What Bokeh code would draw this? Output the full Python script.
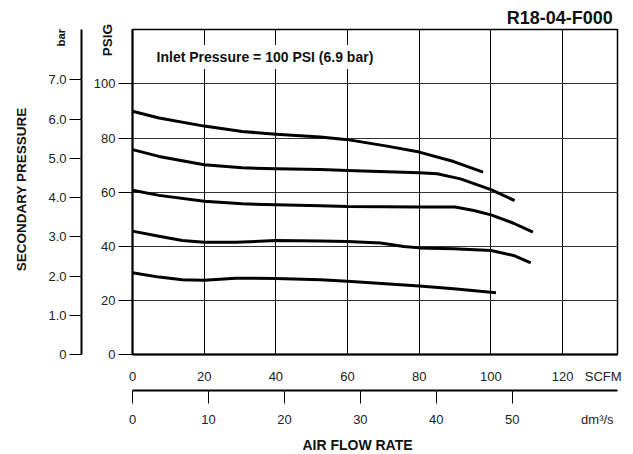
import math
from bokeh.plotting import figure
from bokeh.models import Range1d, LinearAxis, FixedTicker, Label
from bokeh.embed import file_html
from bokeh.resources import INLINE

# ---- data (SCFM vs PSIG) ----
scfm_ticks = [0, 20, 40, 60, 80, 100, 120]
psig_ticks = [0, 20, 40, 60, 80, 100]
bar_ticks = [0, 1, 2, 3, 4, 5, 6, 7]
bar_labels = ["0", "1.0", "2.0", "3.0", "4.0", "5.0", "6.0", "7.0"]
dm_ticks = [0, 10, 20, 30, 40, 50]
scfm_unit_pos = 131.3   # where the "SCFM" unit text sits on the SCFM scale
dm_unit_pos = 61.2      # where the "dm³/s" unit text sits on the dm³/s scale

c1_x = [0, 7.4, 20, 30.6, 40, 52.4, 60, 71, 80, 89.6, 97.8]
c1_y = [89.9, 87.4, 84.4, 82.4, 81.4, 80.4, 79.4, 77.0, 74.8, 71.3, 67.4]

c2_x = [0, 7.4, 20, 30.6, 40, 52.4, 60, 71, 80, 85, 91.5, 100, 106.6]
c2_y = [75.7, 73.2, 70.1, 69.0, 68.6, 68.4, 68.0, 67.5, 67.2, 66.8, 64.9, 60.9, 56.9]

c3_x = [0, 7.4, 20, 30.6, 40, 52.4, 60, 80, 90, 95.2, 100, 106.3, 111.7]
c3_y = [60.7, 58.8, 56.6, 55.7, 55.3, 55.0, 54.7, 54.5, 54.5, 53.2, 51.6, 48.5, 45.2]

c4_x = [0, 7.4, 13.9, 20, 28.8, 40, 52.4, 60, 69.2, 75.7, 80, 89.6, 100, 106.3, 111.1]
c4_y = [45.6, 43.7, 42.1, 41.5, 41.5, 42.1, 41.9, 41.8, 41.2, 39.9, 39.4, 39.1, 38.4, 36.6, 33.9]

c5_x = [0, 7.4, 13.9, 20, 28.8, 40, 52.4, 60, 80, 89.6, 101.4]
c5_y = [30.2, 28.6, 27.6, 27.4, 28.2, 28.1, 27.6, 27.1, 25.3, 24.3, 22.8]

curves = [(c1_x, c1_y), (c2_x, c2_y), (c3_x, c3_y), (c4_x, c4_y), (c5_x, c5_y)]

X_MAX = 135.3
Y_MAX = 120.1
PSI_PER_BAR = 14.5038
DM_PER_SCFM = 0.471947

FONT = "Liberation Sans"
TXT = "#111111"

p = figure(frame_width=485, frame_height=325,
           x_range=Range1d(0, X_MAX), y_range=Range1d(0, Y_MAX),
           output_backend="svg", toolbar_location=None,
           min_border_left=132, min_border_right=16,
           min_border_top=29, min_border_bottom=100)
p.extra_y_ranges = {"bar": Range1d(0, Y_MAX / PSI_PER_BAR)}
p.extra_x_ranges = {"dm": Range1d(0, X_MAX * DM_PER_SCFM)}

p.outline_line_color = "black"
p.outline_line_width = 1.5
p.background_fill_color = "white"
p.border_fill_color = "white"

# grid
p.xgrid.ticker = FixedTicker(ticks=scfm_ticks)
p.ygrid.ticker = FixedTicker(ticks=psig_ticks)
p.xgrid.grid_line_color = "black"
p.xgrid.grid_line_width = 1
p.ygrid.grid_line_color = "#333333"
p.ygrid.grid_line_width = 1

# SCFM axis (bottom, attached to frame)
xa = p.xaxis[0]
xa.ticker = FixedTicker(ticks=scfm_ticks + [scfm_unit_pos])
xa.major_label_overrides = {scfm_unit_pos: "SCFM"}
xa.major_tick_out = 0
xa.major_tick_in = 0
xa.minor_tick_out = 0
xa.minor_tick_in = 0
xa.major_label_standoff = 14
xa.major_label_text_font = FONT
xa.major_label_text_font_size = "13px"
xa.major_label_text_color = "#222222"
xa.axis_line_color = "black"
xa.axis_line_width = 2
xa.axis_label = " "
xa.axis_label_text_font_size = "1px"
xa.axis_label_standoff = 0

# dm3/s axis (second bottom); tick marks drawn as minor ticks
dm_axis = LinearAxis(x_range_name="dm",
                     ticker=FixedTicker(ticks=dm_ticks + [dm_unit_pos], minor_ticks=dm_ticks))
dm_axis.major_label_overrides = {dm_unit_pos: "dm³/s"}
dm_axis.major_tick_out = 0
dm_axis.major_tick_in = 0
dm_axis.minor_tick_out = 13
dm_axis.minor_tick_in = 0
dm_axis.minor_tick_line_color = "black"
dm_axis.minor_tick_line_width = 1
dm_axis.major_label_standoff = 8
dm_axis.major_label_text_font = FONT
dm_axis.major_label_text_font_size = "13px"
dm_axis.major_label_text_color = "#222222"
dm_axis.axis_line_color = "black"
dm_axis.axis_line_width = 2
p.add_layout(dm_axis, "below")

# PSIG axis (left, attached to frame)
ya = p.yaxis[0]
ya.ticker = FixedTicker(ticks=psig_ticks)
ya.major_tick_out = 14
ya.major_tick_in = 0
ya.minor_tick_out = 0
ya.minor_tick_in = 0
ya.major_tick_line_color = "black"
ya.major_label_standoff = 3
ya.major_label_text_font = FONT
ya.major_label_text_font_size = "13px"
ya.major_label_text_color = "#222222"
ya.axis_line_color = "black"
ya.axis_line_width = 2
ya.axis_label = " "
ya.axis_label_text_font_size = "1px"
ya.axis_label_standoff = 5

# bar axis (second left)
bar_axis = LinearAxis(y_range_name="bar", ticker=FixedTicker(ticks=bar_ticks))
bar_axis.major_label_overrides = {t: s for t, s in zip(bar_ticks, bar_labels)}
bar_axis.major_tick_out = 12
bar_axis.major_tick_in = 0
bar_axis.minor_tick_out = 0
bar_axis.minor_tick_in = 0
bar_axis.major_tick_line_color = "black"
bar_axis.major_label_standoff = 3
bar_axis.major_label_text_font = FONT
bar_axis.major_label_text_font_size = "13px"
bar_axis.major_label_text_color = "#222222"
bar_axis.axis_line_color = "black"
bar_axis.axis_line_width = 2
p.add_layout(bar_axis, "left")

# curves
for cx, cy in curves:
    p.line(cx, cy, line_color="black", line_width=3, line_join="round", line_cap="butt")

# texts (side-panel labels are placed in data units, unclipped)
def lab(text, x, y, size, place, align="left", angle=0, bg=None):
    l = Label(x=x, y=y, text=text, text_font=FONT, text_font_size=size,
              text_font_style="bold", text_color=TXT,
              text_align=align, text_baseline="middle", angle=angle)
    if bg is not None:
        l.background_fill_color = bg
        l.padding = 4
    if place is None:
        p.add_layout(l)
    else:
        p.add_layout(l, place)

lab("Inlet Pressure = 100 PSI (6.9 bar)", 5.6, 109.9, "14px", None, bg="white")
lab("R18-04-F000", 134.0, 124.5, "18px", "above", align="right")
lab("SECONDARY PRESSURE", -31.1, 61.0, "13.5px", "left", align="center", angle=math.pi / 2)
lab("PSIG", -6.97, 116.2, "13.5px", "left", align="center", angle=math.pi / 2)
lab("bar", -19.98, 117.1, "11.5px", "left", align="center", angle=math.pi / 2)
lab("AIR FLOW RATE", 47.4, -33.6, "14px", "below")

open("out.html", "w").write(file_html(p, INLINE))
